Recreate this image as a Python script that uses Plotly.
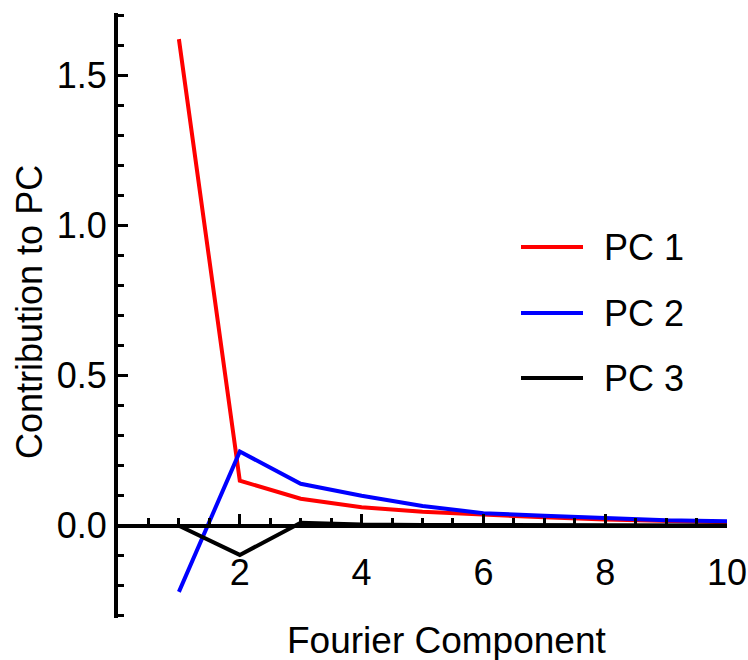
import plotly.graph_objects as go

# ---- data ----
components = [1, 2, 3, 4, 5, 6, 7, 8, 9, 10]
pc1 = [1.62, 0.15, 0.09, 0.062, 0.047, 0.036, 0.028, 0.021, 0.016, 0.012]
pc2 = [-0.22, 0.247, 0.14, 0.10, 0.066, 0.042, 0.033, 0.024, 0.018, 0.015]
pc3 = [0.0, -0.097, 0.01, 0.004, 0.003, 0.002, 0.001, 0.001, 0.001, 0.001]
series_names = ["PC 1", "PC 2", "PC 3"]
series_colors = ["#ff0000", "#0000ff", "#000000"]
x_ticks = [2, 4, 6, 8, 10]
y_ticks = [0.0, 0.5, 1.0, 1.5]
x_title = "Fourier Component"
y_title = "Contribution to PC"

FONT = "Liberation Sans, Arial, Helvetica, sans-serif"
xr = [0, 10]
yr = [-0.307, 1.707]

W, H = 748, 660
L, R, T, B = 118, 21, 13, 42
PW, PH = W - L - R, H - T - B

fig = go.Figure()
for name, vals, col in zip(series_names, [pc1, pc2, pc3], series_colors):
    fig.add_trace(go.Scatter(x=components, y=vals, mode="lines", name=name,
                             line=dict(color=col, width=4), showlegend=False))

xpos = (0 - yr[0]) / (yr[1] - yr[0])

fig.update_layout(
    width=W, height=H,
    margin=dict(l=L, r=R, t=T, b=B, autoexpand=False),
    plot_bgcolor="white", paper_bgcolor="white",
    font=dict(family=FONT, size=36, color="black"),
    xaxis=dict(range=xr, anchor="free", position=xpos, showline=True, linewidth=4,
               linecolor="black", showgrid=False, zeroline=False, automargin=False,
               tickvals=x_ticks, ticks="inside", ticklen=10, tickwidth=3,
               tickcolor="black", ticklabelstandoff=14,
               minor=dict(dtick=0.5, tick0=0, ticks="inside", ticklen=6,
                          tickwidth=3, tickcolor="black", showgrid=False)),
    yaxis=dict(range=yr, showline=True, linewidth=4, linecolor="black",
               showgrid=False, zeroline=False, automargin=False, tickvals=y_ticks,
               tickformat=".1f", ticks="inside", ticklen=10, tickwidth=3,
               tickcolor="black",
               minor=dict(dtick=0.1, tick0=0, ticks="inside", ticklen=6,
                          tickwidth=3, tickcolor="black", showgrid=False)),
)

# axis titles
fig.add_annotation(text=x_title, xref="paper", yref="paper",
                   x=(446 - L) / PW, y=-(640 - (T + PH)) / PH,
                   showarrow=False, font=dict(size=37), xanchor="center", yanchor="middle")
fig.add_annotation(text=y_title, xref="paper", yref="paper", textangle=-90,
                   x=-(L - 30) / PW, y=((T + PH) - 312) / PH,
                   showarrow=False, font=dict(size=36), xanchor="center", yanchor="middle")

# legend (drawn manually to match line length)
leg_y = [247, 313, 378]
for name, col, py in zip(series_names, series_colors, leg_y):
    yp = ((T + PH) - py) / PH
    fig.add_shape(type="line", xref="paper", yref="paper",
                  x0=(521 - L) / PW, x1=(583 - L) / PW, y0=yp, y1=yp,
                  line=dict(color=col, width=4))
    fig.add_annotation(text=name, xref="paper", yref="paper",
                       x=(602 - L) / PW, y=yp, xanchor="left", yanchor="middle",
                       showarrow=False, font=dict(size=36))

fig.write_html("out.html")
